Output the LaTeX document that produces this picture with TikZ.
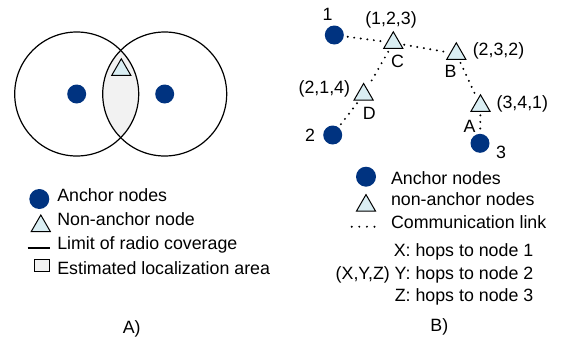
\documentclass[tikz,border=0pt]{standalone}
\usepackage{fontspec}
\setmainfont{Liberation Sans}
\usetikzlibrary{shapes.geometric}
\definecolor{anchorblue}{RGB}{0,51,128}
\definecolor{tripale}{RGB}{218,238,243}
\definecolor{lensgray}{RGB}{242,242,242}
\begin{document}
\begin{tikzpicture}[x=1pt,y=-1pt,
  every node/.style={font=\fontsize{17.8}{21}\selectfont, inner sep=0pt, outer sep=0pt},
  anchornode/.style={circle, fill=anchorblue, minimum size=19pt},
  legdot/.style={circle, fill=anchorblue, minimum size=20pt},
  nonanchor/.style={regular polygon, regular polygon sides=3, draw=black, fill=tripale,
                    line width=1pt, minimum size=22pt},
  link/.style={line width=2.2pt, line cap=round, dash pattern=on 0pt off 6.6pt,
               shorten <=4pt, shorten >=4pt},
  coverage/.style={draw=black, line width=1.2pt},
  legtext/.style={anchor=base west},
  hoptext/.style={anchor=base east}]
\useasboundingbox (0,0) rectangle (561,343);

% ---------- A) two radio ranges and their overlap ----------
\coordinate (cL) at (76.7,94);
\coordinate (cR) at (164.7,94);
\begin{scope}
  \clip (cL) circle[radius=62];
  \fill[lensgray] (cR) circle[radius=62];
\end{scope}
\draw[coverage] (cL) circle[radius=62];
\draw[coverage] (cR) circle[radius=62];
\node[anchornode] (aL) at (cL) {};
\node[anchornode] (aR) at (cR) {};
\node[nonanchor] (tLens) at (121.3,69.8) {};

% legend A
\node[legdot] (lgA1) at (39.3,199) {};
\node[legtext] (lgA1t) at (57.3,201.7) {Anchor nodes};
\node[nonanchor] (lgA2) at (40.8,226) {};
\node[legtext] (lgA2t) at (57.3,225.7) {Non-anchor node};
\coordinate (lgA3a) at (27.7,248.3);
\coordinate (lgA3b) at (50,248.3);
\draw[line width=2pt] (lgA3a) -- (lgA3b);
\node[legtext] (lgA3t) at (57.3,249.8) {Limit of radio coverage};
\node[draw=black, fill=lensgray, line width=0.8pt, minimum width=14.7pt, minimum height=12.7pt] (lgA4) at (41.7,265.3) {};
\node[legtext] (lgA4t) at (57.3,274) {Estimated localization area};
\node[anchor=base] (capA) at (131.7,333.3) {A)};

% ---------- B) hop counts ----------
\node[anchornode] (n1) at (334.3,35) {};
\node[anchornode] (n2) at (332.7,135) {};
\node[anchornode] (n3) at (480,143.3) {};
\node[nonanchor] (tC) at (393.3,42.8) {};
\node[nonanchor] (tB) at (456.3,53.8) {};
\node[nonanchor] (tD) at (363.6,94.5) {};
\node[nonanchor] (tA) at (480.5,105.8) {};

\draw[link] (n1) -- (tC);
\draw[link] (tC) -- (tB);
\draw[link] (tC) -- (tD);
\draw[link] (tD) -- (n2);
\draw[link] (tB) -- (tA);
\draw[link] (tA) -- (n3);

\node (l1) at (327.5,14.5) {1};
\node (l2) at (310,135) {2};
\node (l3) at (501,152) {3};
\node (lC) at (397.5,61) {C};
\node (lB) at (450.5,71.5) {B};
\node (lD) at (369.3,113.3) {D};
\node (lA) at (469.5,126) {A};
\node (hC) at (391,20) {(1,2,3)};
\node (hB) at (498.5,50.7) {(2,3,2)};
\node (hD) at (324.3,89.3) {(2,1,4)};
\node (hA) at (522.3,104.3) {(3,4,1)};

% legend B
\node[legdot] (lgB1) at (366,176.7) {};
\node[legtext] (lgB1t) at (391,184) {Anchor nodes};
\node[nonanchor] (lgB2) at (366,205.6) {};
\node[legtext] (lgB2t) at (391,205.7) {non-anchor nodes};
\coordinate (lgB3a) at (351.7,226.7);
\coordinate (lgB3b) at (375.5,226.7);
\draw[link, shorten <=0pt, shorten >=0pt, dash pattern=on 0pt off 7.6pt] (lgB3a) -- (lgB3b);
\node[legtext] (lgB3t) at (391,228.3) {Communication link};
\node[hoptext] (hx) at (533.3,256.7) {X: hops to node 1};
\node[hoptext] (hy) at (533.3,279) {(X,Y,Z) Y: hops to node 2};
\node[hoptext] (hz) at (533.3,301) {Z: hops to node 3};
\node[anchor=base] (capB) at (439.3,331.7) {B)};
\end{tikzpicture}
\end{document}
